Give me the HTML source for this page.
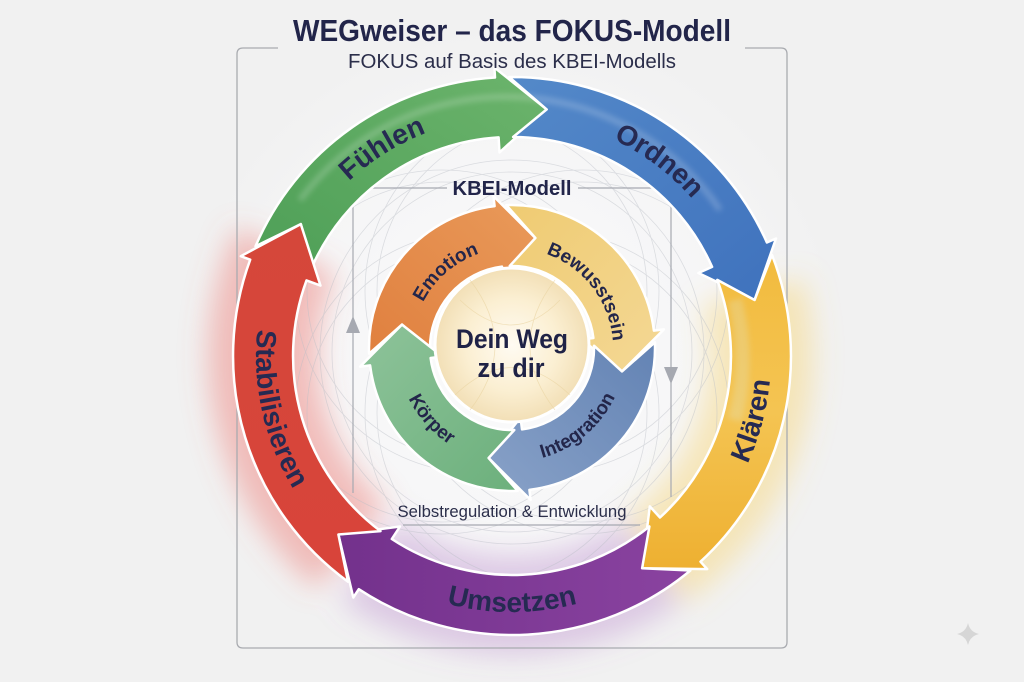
<!DOCTYPE html>
<html><head><meta charset="utf-8">
<style>
html,body{margin:0;padding:0;background:#f1f1f1;}
svg{display:block}
text{font-family:"Liberation Sans",Arial,sans-serif;}
</style></head>
<body>
<svg width="1024" height="682" viewBox="0 0 1024 682" xmlns="http://www.w3.org/2000/svg">
<defs>
  <filter id="blur" x="-50%" y="-50%" width="200%" height="200%"><feGaussianBlur stdDeviation="14"/></filter>
  <filter id="blur4" x="-20%" y="-20%" width="140%" height="140%"><feGaussianBlur stdDeviation="3"/></filter>
  <radialGradient id="bgGlow" cx="512" cy="356" r="330" gradientUnits="userSpaceOnUse">
    <stop offset="0" stop-color="#fbfbfc"/><stop offset="0.7" stop-color="#f5f5f6"/><stop offset="1" stop-color="#f1f1f1"/>
  </radialGradient>
  <radialGradient id="core" cx="0.5" cy="0.5" r="0.5">
    <stop offset="0" stop-color="#fffbf2"/><stop offset="0.6" stop-color="#fbefd2"/><stop offset="1" stop-color="#f2dfb6"/>
  </radialGradient>
  <linearGradient id="gGreen" x1="0" y1="1" x2="1" y2="0"><stop offset="0" stop-color="#4e9f57"/><stop offset="1" stop-color="#6cb46c"/></linearGradient>
  <linearGradient id="gBlue" x1="0" y1="0" x2="1" y2="1"><stop offset="0" stop-color="#5489c9"/><stop offset="1" stop-color="#3f72bd"/></linearGradient>
  <linearGradient id="gYellow" x1="0" y1="0" x2="0" y2="1"><stop offset="0" stop-color="#f2bb3e"/><stop offset="0.5" stop-color="#f4c452"/><stop offset="1" stop-color="#eeb031"/></linearGradient>
  <linearGradient id="gPurple" x1="1" y1="0" x2="0" y2="0"><stop offset="0" stop-color="#8a43a0"/><stop offset="1" stop-color="#73318c"/></linearGradient>
  <linearGradient id="gRed" x1="0" y1="1" x2="0" y2="0"><stop offset="0" stop-color="#d8443a"/><stop offset="1" stop-color="#d5473a"/></linearGradient>
  <linearGradient id="iOrange" x1="0" y1="1" x2="1" y2="0"><stop offset="0" stop-color="#e0803f"/><stop offset="1" stop-color="#e99a5a"/></linearGradient>
  <linearGradient id="iYellow" x1="0" y1="1" x2="1" y2="0"><stop offset="0" stop-color="#efcb72"/><stop offset="1" stop-color="#f4d895"/></linearGradient>
  <linearGradient id="iBlue" x1="0" y1="1" x2="1" y2="0"><stop offset="0" stop-color="#6383b4"/><stop offset="1" stop-color="#89a2c8"/></linearGradient>
  <linearGradient id="iGreen" x1="0" y1="1" x2="1" y2="0"><stop offset="0" stop-color="#6cb07c"/><stop offset="1" stop-color="#8ec39a"/></linearGradient>

  <path id="orangeArrow" d="M 369.1 353.7 A 143 143 0 0 1 494.6 206.1 L 493.4 196.1 L 535.4 238.0 L 503.5 278.5 L 502.0 266.6 A 82 82 0 0 0 430.0 350.3 L 402.0 324.6 Z"/>

  <path id="tFuehlen" d="M 284.7 282.1 A 239 239 0 0 1 545.3 119.3"/>
  <path id="tOrdnen" d="M 499.5 117.3 A 239 239 0 0 1 744.9 302.2"/>
  <path id="tKlaeren" d="M 660.6 568.2 A 259 259 0 0 0 746.7 246.5"/>
  <path id="tUmsetzen" d="M 347.4 552.1 A 256 256 0 0 0 676.6 552.1"/>
  <path id="tStab" d="M 295.6 219.2 A 256 256 0 0 0 375.2 572.4"/>
  <path id="tEmotion" d="M 413.2 332.4 A 100 100 0 0 1 510.3 248.0"/>
  <path id="tBew" d="M 534.5 250.6 A 100 100 0 0 1 612.9 353.2"/>
  <path id="tInt" d="M 502.1 461.6 A 114 114 0 0 0 625.6 357.9"/>
  <path id="tKoer" d="M 397.2 341.0 A 115 115 0 0 0 505.0 462.8"/>
</defs>

<!-- background -->
<rect x="0" y="0" width="1024" height="682" fill="#f1f1f1"/>
<rect x="0" y="0" width="1024" height="682" fill="url(#bgGlow)"/>

<!-- glows -->
<g filter="url(#blur)" fill="none">
  <path d="M 351.9 546.7 A 249 249 0 0 1 286.3 250.8" stroke="#ea6a60" stroke-width="110" opacity="0.4"/>
  <path d="M 752.5 291.6 A 249 249 0 0 1 654.8 560.0" stroke="#f6cc55" stroke-width="105" opacity="0.38"/>
  <path d="M 654.8 560.0 A 249 249 0 0 1 369.2 560.0" stroke="#a468bd" stroke-width="100" opacity="0.3"/>
</g>

<!-- decorative thin curves -->
<g fill="none" stroke="#b9bdc5" stroke-width="0.8" opacity="0.45">
  <circle cx="582" cy="352" r="170"/><circle cx="547" cy="291" r="170"/><circle cx="477" cy="291" r="170"/>
  <circle cx="442" cy="352" r="170"/><circle cx="477" cy="413" r="170"/><circle cx="547" cy="413" r="170"/>
  <circle cx="582" cy="352" r="182"/><circle cx="547" cy="291" r="182"/><circle cx="477" cy="291" r="182"/>
  <circle cx="442" cy="352" r="182"/><circle cx="477" cy="413" r="182"/><circle cx="547" cy="413" r="182"/>
  <circle cx="512" cy="352" r="180"/><circle cx="512" cy="352" r="192"/>
</g>

<!-- outer frame -->
<path d="M 278 48 L 243 48 Q 237 48 237 54 L 237 642 Q 237 648 243 648 L 781 648 Q 787 648 787 642 L 787 54 Q 787 48 781 48 L 745 48" fill="none" stroke="#a9abb0" stroke-width="1.3"/>

<!-- inner frame lines -->
<g stroke="#a6a9b1" stroke-width="1.2" fill="none">
  <path d="M 447 188 L 353 188 L 353 493"/>
  <path d="M 578 188 L 671 188 L 671 497"/>
  <path d="M 403 525 L 640 525"/>
</g>
<polygon points="353,316 346,333 360,333" fill="#a6a9b1"/>
<polygon points="671,384 664,367 678,367" fill="#a6a9b1"/>

<!-- outer arrows -->
<g stroke="#ffffff" stroke-width="2.5" stroke-linejoin="round">
  <path fill="url(#gGreen)" d="M 255.5 246.3 A 279 279 0 0 1 495.0 77.5 L 494.4 67.5 L 546.7 109.4 L 499.5 152.4 L 498.6 137.4 A 219 219 0 0 0 312.1 266.6 L 300.8 224.1 Z"/>
  <path fill="url(#gBlue)" d="M 509.1 77.0 A 279 279 0 0 1 766.9 242.5 L 776.0 238.5 L 754.6 300.0 L 698.4 273.0 L 712.1 266.9 A 219 219 0 0 0 513.1 137.0 L 546.7 109.4 Z"/>
  <path fill="url(#gYellow)" d="M 772.0 254.9 A 279 279 0 0 1 700.5 561.7 L 707.2 569.1 L 642.1 568.3 L 649.8 506.4 L 660.0 517.5 A 219 219 0 0 0 717.3 279.9 L 754.6 300.0 Z"/>
  <path fill="url(#gPurple)" d="M 690.4 570.5 A 279 279 0 0 1 358.8 589.2 L 353.3 597.5 L 338.4 534.5 L 400.0 526.5 L 391.8 539.0 A 219 219 0 0 0 649.4 526.5 L 642.1 568.3 Z"/>
  <path fill="url(#gRed)" d="M 348.0 581.7 A 279 279 0 0 1 250.2 259.7 L 240.8 256.2 L 300.8 224.1 L 320.5 285.6 L 306.5 280.4 A 219 219 0 0 0 380.5 531.1 L 338.4 534.5 Z"/>
</g>

<!-- sheen on outer arrows -->
<g fill="none" filter="url(#blur4)" opacity="0.2">
  <path d="M 300 200 A 258 258 0 0 1 720 210" stroke="#ffffff" stroke-width="6"/>
  <path d="M 735 300 A 240 240 0 0 1 735 420" stroke="#d8f4ff" stroke-width="14"/>
</g>

<!-- inner arrows -->
<g stroke="#ffffff" stroke-width="2.5" stroke-linejoin="round">
  <use href="#orangeArrow" fill="url(#iOrange)"/>
  <use href="#orangeArrow" fill="url(#iYellow)" transform="rotate(90 512 348)"/>
  <use href="#orangeArrow" fill="url(#iBlue)" transform="rotate(180 512 348)"/>
  <use href="#orangeArrow" fill="url(#iGreen)" transform="rotate(270 512 348)"/>
</g>

<!-- center circle -->
<circle cx="512" cy="345" r="77" fill="url(#core)" stroke="#ffffff" stroke-width="3"/>
<g fill="none" stroke="#e9d3a0" stroke-width="0.8" opacity="0.6">
  <path d="M 460 300 Q 512 350 560 300"/>
  <path d="M 455 395 Q 512 340 570 395"/>
  <path d="M 470 280 Q 520 345 470 410"/>
  <path d="M 555 280 Q 505 345 555 410"/>
</g>

<!-- titles -->
<text x="512" y="41" text-anchor="middle" font-size="31" font-weight="bold" fill="#22254a" textLength="438" lengthAdjust="spacingAndGlyphs">WEGweiser – das FOKUS-Modell</text>
<text x="512" y="68" text-anchor="middle" font-size="20" fill="#2b2e4a" textLength="328" lengthAdjust="spacingAndGlyphs">FOKUS auf Basis des KBEI-Modells</text>

<text x="512" y="195" text-anchor="middle" font-size="20" font-weight="bold" fill="#22254a" textLength="119" lengthAdjust="spacingAndGlyphs">KBEI-Modell</text>
<text x="512" y="517" text-anchor="middle" font-size="17" fill="#2b2e4a" textLength="229" lengthAdjust="spacingAndGlyphs">Selbstregulation &amp; Entwicklung</text>

<text x="512" y="348" text-anchor="middle" font-size="27" font-weight="bold" fill="#1f2246" textLength="112" lengthAdjust="spacingAndGlyphs">Dein Weg</text>
<text x="511" y="377" text-anchor="middle" font-size="27" font-weight="bold" fill="#1f2246" textLength="67" lengthAdjust="spacingAndGlyphs">zu dir</text>

<!-- outer labels -->
<g font-size="28" font-weight="bold" fill="#262a52">
  <text><textPath href="#tFuehlen" startOffset="50%" text-anchor="middle">Fühlen</textPath></text>
  <text><textPath href="#tOrdnen" startOffset="50%" text-anchor="middle">Ordnen</textPath></text>
  <text><textPath href="#tKlaeren" startOffset="50%" text-anchor="middle">Klären</textPath></text>
  <text><textPath href="#tUmsetzen" startOffset="50%" text-anchor="middle">Umsetzen</textPath></text>
  <text><textPath href="#tStab" startOffset="50%" text-anchor="middle">Stabilisieren</textPath></text>
</g>

<!-- inner labels -->
<g font-size="19" font-weight="bold" fill="#23264a">
  <text><textPath href="#tEmotion" startOffset="50%" text-anchor="middle">Emotion</textPath></text>
  <text><textPath href="#tBew" startOffset="50%" text-anchor="middle">Bewusstsein</textPath></text>
  <text><textPath href="#tInt" startOffset="50%" text-anchor="middle">Integration</textPath></text>
  <text><textPath href="#tKoer" startOffset="50%" text-anchor="middle">Körper</textPath></text>
</g>

<!-- sparkle icon -->
<path d="M 968 623 Q 970 632 979 634 Q 970 636 968 645 Q 966 636 957 634 Q 966 632 968 623 Z" fill="#d6d6d6"/>
</svg>
</body></html>
